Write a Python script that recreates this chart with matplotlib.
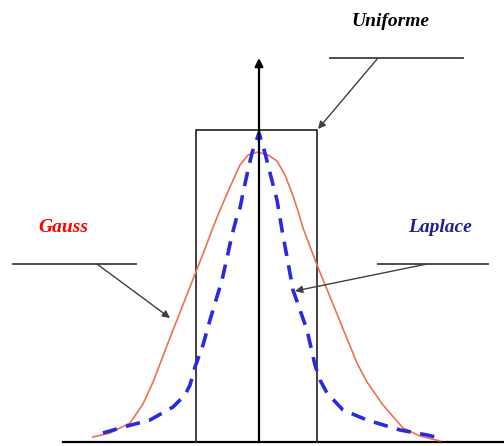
import matplotlib.pyplot as plt

# positions (pixels, y grows downward)
gauss_x = [93, 110, 130, 143, 153, 160, 168, 177, 186, 199, 206, 212, 220, 230, 240, 248, 258,
           268, 277, 285, 292, 298, 303, 317, 337, 350, 357, 367, 383, 403, 420, 440]
gauss_y = [437, 433, 423, 404, 382, 364, 343, 320, 297, 264, 246, 230, 210, 187, 165, 155, 152,
           155, 161, 175, 193, 211, 228, 265, 314, 346, 363, 382, 405, 428, 436, 441]

laplace_x = [103, 120, 150, 173, 185, 190, 195, 203, 210, 216, 222, 227, 232, 236, 240, 243, 248,
             252, 259, 265, 270, 277, 282, 287, 293, 300, 307, 315, 320, 327, 343, 367, 400, 427, 440]
laplace_y = [433, 428, 420, 407, 395, 385, 367, 345, 320, 300, 280, 258, 235, 220, 208, 193, 170,
             153, 133, 153, 173, 200, 230, 257, 290, 310, 330, 365, 380, 393, 410, 420, 430, 435, 438]

labels = ["Uniforme", "Gauss", "Laplace"]

fig = plt.figure(figsize=(5.04, 4.46), dpi=100)
ax = fig.add_axes([0, 0, 1, 1])
ax.set_xlim(0, 504)
ax.set_ylim(446, 0)
ax.axis('off')

# baseline and vertical axis
ax.plot([63, 503], [442, 442], color='black', lw=1.6)
ax.annotate('', xy=(259, 58), xytext=(259, 442),
            arrowprops=dict(arrowstyle='-|>', color='black', lw=1.6,
                            mutation_scale=12, shrinkA=0, shrinkB=0))

# uniform box
ax.plot([196, 196, 317, 317], [442, 130, 130, 442], color='#303030', lw=1.3)

ax.plot(gauss_x, gauss_y, color='#f07050', lw=1.2)
ax.plot(laplace_x, laplace_y, color='#2a2ae0', lw=2.6, dashes=(4, 2.6))

# labels with leader lines
font = dict(family='Liberation Serif', weight='bold', style='italic', fontsize=14)
ax.text(390, 22, labels[0], color='black', ha='center', va='center', **font)
ax.text(63, 227, labels[1], color='red', ha='center', va='center', **font)
ax.text(440, 228, labels[2], color='#1e1e96', ha='center', va='center', **font)

ax.plot([330, 463], [58, 58], color='#404040', lw=1.3)
ax.plot([13, 136], [264, 264], color='#404040', lw=1.3)
ax.plot([378, 488], [264, 264], color='#404040', lw=1.3)

arrow = dict(arrowstyle='-|>', color='#404040', lw=1.0, mutation_scale=11,
             shrinkA=0, shrinkB=0)
ax.annotate('', xy=(318, 129), xytext=(378, 58), arrowprops=arrow)
ax.annotate('', xy=(170, 318), xytext=(97, 264), arrowprops=arrow)
ax.annotate('', xy=(295, 291), xytext=(427, 264), arrowprops=arrow)

fig.savefig('out.png', dpi=100)
